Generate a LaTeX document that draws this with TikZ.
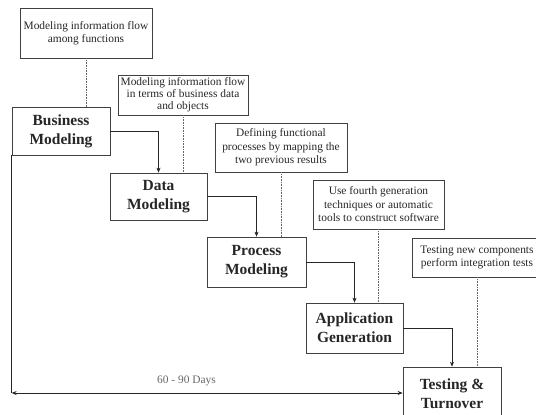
\documentclass[tikz,border=0pt]{standalone}
\usepackage{fontspec}
\setmainfont{Liberation Serif}
\usetikzlibrary{arrows.meta}

\tikzset{
  phase/.style={draw=black!75, line width=0.7pt, align=center, inner sep=0pt,
    font=\fontsize{15.5}{19}\selectfont\bfseries, text=black!85},
  note/.style={draw=black!75, line width=0.6pt, align=center, inner sep=0pt,
    font=\fontsize{11.4}{13.5}\selectfont, text=black!85},
  flow/.style={draw=black!85, line width=0.6pt, -{Stealth[length=5pt,width=4pt]}},
  link/.style={draw=black!60, line width=0.6pt, densely dotted}
}

\begin{document}
\begin{tikzpicture}[x=1pt, y=-1pt]
\useasboundingbox (0,0) rectangle (536,415);

%phases
\node[phase, minimum width=98pt, minimum height=48pt] (bm) at (61,131) {Business\\Modeling};
\node[phase, minimum width=97pt, minimum height=47pt] (dm) at (158.5,196.5) {Data\\Modeling};
\node[phase, minimum width=99pt, minimum height=50pt] (pm) at (256.5,262) {Process\\Modeling};
\node[phase, minimum width=97pt, minimum height=50pt] (ag) at (354.5,328) {Application\\Generation};
\node[phase, minimum width=98pt, minimum height=54pt] (tt) at (452,394) {Testing \&\\Turnover};

%notes
\node[note, minimum width=132pt, minimum height=50pt] (n1) at (86,33) {Modeling information flow\\among functions};
\node[note, minimum width=130pt, minimum height=40pt, font=\fontsize{11.4}{12}\selectfont] (n2) at (183,95) {Modeling information flow\\in terms of business data\\and objects};
\node[note, minimum width=132pt, minimum height=49pt] (n3) at (281,147.5) {Defining functional\\processes by mapping the\\two previous results};
\node[note, minimum width=131pt, minimum height=49pt] (n4) at (378.5,204.5) {Use fourth generation\\techniques or automatic\\tools to construct software};
\node[note, minimum width=130pt, minimum height=39pt] (n5) at (477,257.5) {Testing new components\\perform integration tests};

%dotted links
\foreach \n/\b in {n1/bm, n2/dm, n3/pm, n4/ag, n5/tt}
\draw[link] (\n.south) -- (\n.south |- \b.north);

%flow arrows
\foreach \a/\b in {bm/dm, dm/pm, pm/ag, ag/tt}
\draw[flow] (\a.east) -| (\b.north);

%time span
\coordinate (corner) at (bm.south west |- 0,393);
\draw[draw=black!85, line width=0.6pt] (bm.south west) -- (corner);
\draw[draw=black!85, line width=0.6pt, {Stealth[length=5pt,width=4pt]}-{Stealth[length=5pt,width=4pt]}] (corner) -- (corner -| tt.west);

%label
\node[font=\fontsize{11.4}{13}\selectfont, text=black!60] (days) at (186.5,381) {60 - 90 Days};

\end{tikzpicture}
\end{document}
